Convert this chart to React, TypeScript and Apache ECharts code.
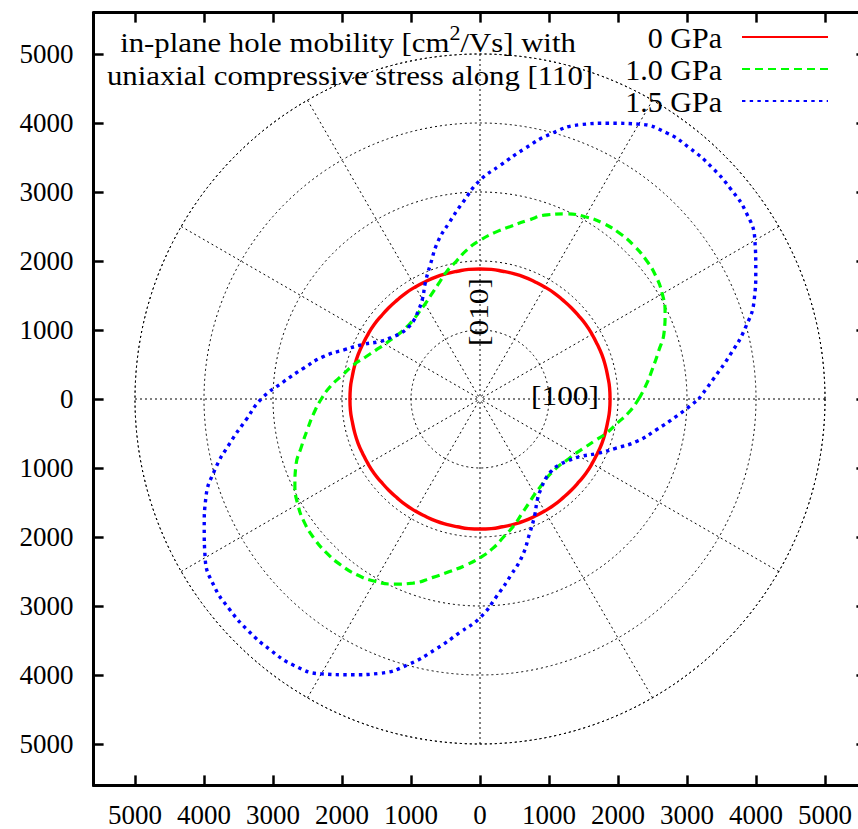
import React, { useEffect, useRef } from "react";
import * as echarts from "echarts";

// polar angles in degrees (counter-clockwise from [100]), one period of 180 degrees
const angles = [0, 5, 10, 15, 20, 25, 30, 35, 40, 45, 50, 55, 60, 65, 70, 75, 80, 85,
  90, 95, 100, 105, 110, 115, 120, 125, 130, 135, 140, 145, 150, 155, 160, 165, 170, 175];

// mobility [cm^2/Vs] read at each angle (the curves repeat after 180 degrees)
const mob0GPa = [1885, 1885, 1880, 1880, 1880, 1875, 1875, 1875, 1870, 1870, 1870, 1875, 1875, 1875, 1880, 1880, 1880, 1885,
  1885, 1885, 1880, 1880, 1880, 1875, 1875, 1875, 1870, 1870, 1870, 1875, 1875, 1875, 1880, 1880, 1880, 1885];
const mob10GPa = [2300, 2420, 2540, 2680, 2840, 2960, 3050, 3110, 3140, 3150, 3140, 3110, 3050, 2960, 2840, 2680, 2540, 2420,
  2300, 2170, 2020, 1900, 1770, 1670, 1590, 1540, 1500, 1490, 1500, 1540, 1590, 1670, 1770, 1900, 2020, 2170];
const mob15GPa = [3170, 3400, 3680, 3980, 4230, 4410, 4600, 4710, 4740, 4750, 4740, 4710, 4600, 4410, 4230, 3980, 3680, 3400,
  3170, 2860, 2590, 2360, 2090, 1870, 1670, 1560, 1490, 1470, 1490, 1560, 1670, 1870, 2090, 2360, 2590, 2860];

const seriesNames = ["0 GPa", "1.0 GPa", "1.5 GPa"];
const tickValues = [-5000, -4000, -3000, -2000, -1000, 0, 1000, 2000, 3000, 4000, 5000];
const titleLine1 = ["in-plane hole mobility [cm", "2", "/Vs] with"];
const titleLine2 = "uniaxial compressive stress along [110]";
const dirLabelX = "[100]";
const dirLabelY = "[010]";

const FONT = "'Liberation Serif', 'Times New Roman', serif";

// full turn: first period, second period (same values), then close the loop
function closed(values: number[]) {
  const pts: number[][] = [];
  angles.forEach((a, i) => pts.push([values[i], a]));
  angles.forEach((a, i) => pts.push([values[i], a + 180]));
  pts.push([values[0], 360]);
  return pts;
}

export default function App() {
  const ref = useRef<HTMLDivElement>(null);
  useEffect(() => {
    if (!ref.current) return;
    const chart = echarts.init(ref.current, null, { renderer: "svg" });
    const gridLine = { color: "#000", width: 1, type: [2, 3] as any };
    const axisCommon = (pos: string, showLabel: boolean) => ({
      type: "value",
      position: pos,
      min: -5600,
      max: 5600,
      axisLine: { show: true, onZero: false, lineStyle: { color: "#000", width: 3 } },
      axisTick: { show: true, inside: true, length: 10, lineStyle: { color: "#000", width: 2.5 }, customValues: tickValues },
      axisLabel: {
        show: showLabel,
        customValues: tickValues,
        formatter: (v: number) => String(Math.abs(v)),
        fontFamily: FONT,
        fontSize: 27,
        lineHeight: 27,
        color: "#000",
        margin: pos === "bottom" ? 16 : 20,
      },
      splitLine: { show: false },
    });
    chart.setOption({
      animation: false,
      backgroundColor: "#fff",
      grid: { left: 93.6, top: 12.6, width: 772.8, height: 772.8, containLabel: false, outerBoundsMode: "none" },
      xAxis: [axisCommon("bottom", true), axisCommon("top", false)],
      yAxis: [axisCommon("left", true), axisCommon("right", false)],
      polar: { center: [480, 399], radius: 345 },
      radiusAxis: {
        type: "value",
        min: 0,
        max: 5000,
        interval: 1000,
        axisLine: { show: false },
        axisTick: { show: false },
        axisLabel: { show: false },
        splitLine: { show: true, lineStyle: gridLine },
      },
      angleAxis: {
        type: "value",
        min: 0,
        max: 360,
        interval: 30,
        startAngle: 0,
        clockwise: false,
        axisLine: { show: true, lineStyle: gridLine },
        axisTick: { show: false },
        axisLabel: { show: false },
        splitLine: { show: true, lineStyle: gridLine },
      },
      legend: {
        orient: "vertical",
        right: 29,
        top: 22,
        padding: 0,
        align: "right",
        itemWidth: 86,
        itemHeight: 14,
        itemGap: 2,
        itemStyle: { color: "transparent", borderWidth: 0, opacity: 0 },
        textStyle: { fontFamily: FONT, fontSize: 30, color: "#000", padding: [0, 15, 0, 0] },
        data: seriesNames,
      },
      series: [
        {
          name: seriesNames[0], type: "line", coordinateSystem: "polar", data: closed(mob0GPa),
          symbol: "none", showSymbol: false, smooth: 0.5, silent: true,
          lineStyle: { color: "#ff0000", width: 3.4, type: "solid" }, itemStyle: { color: "#ff0000" }, z: 3,
        },
        {
          name: seriesNames[1], type: "line", coordinateSystem: "polar", data: closed(mob10GPa),
          symbol: "none", showSymbol: false, smooth: 0.5, silent: true,
          lineStyle: { color: "#00ff00", width: 3.2, type: [8, 5] }, itemStyle: { color: "#00ff00" }, z: 4,
        },
        {
          name: seriesNames[2], type: "line", coordinateSystem: "polar", data: closed(mob15GPa),
          symbol: "none", showSymbol: false, smooth: 0.5, silent: true,
          lineStyle: { color: "#0000ff", width: 3.4, type: [3.4, 4.3] }, itemStyle: { color: "#0000ff" }, z: 5,
        },
      ],
      graphic: [
        {
          type: "text", x: 348, y: 42, z: 10, scaleX: 1.1,
          style: {
            text: `{t|${titleLine1[0]}}{s|${titleLine1[1]}}{t|${titleLine1[2]}}`,
            align: "center", verticalAlign: "middle",
            rich: {
              t: { fontFamily: FONT, fontSize: 28, fill: "#000", lineHeight: 38 },
              s: { fontFamily: FONT, fontSize: 20, fill: "#000", lineHeight: 20, verticalAlign: "top" },
            },
          },
        },
        {
          type: "text", x: 350, y: 75.5, z: 10, scaleX: 1.1,
          style: { text: titleLine2, font: `28px ${FONT}`, fill: "#000", align: "center", verticalAlign: "middle" },
        },
        {
          type: "text", x: 565, y: 396, z: 10, scaleX: 1.12,
          style: { text: dirLabelX, font: `28px ${FONT}`, fill: "#000", align: "center", verticalAlign: "middle" },
        },
        {
          type: "text", x: 479, y: 312, rotation: Math.PI / 2, z: 10, scaleX: 1.12,
          style: { text: dirLabelY, font: `28px ${FONT}`, fill: "#000", align: "center", verticalAlign: "middle" },
        },
      ],
    });
    return () => chart.dispose();
  }, []);
  return <div ref={ref} style={{ position: "absolute", left: 0, top: 0, width: 858, height: 829 }} />;
}
